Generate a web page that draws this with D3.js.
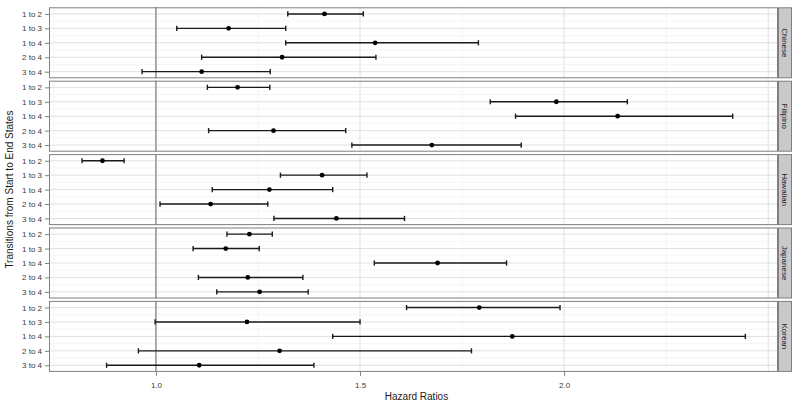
<!DOCTYPE html>
<html><head><meta charset="utf-8">
<script src="https://cdn.jsdelivr.net/npm/d3@7"></script>
<style>body{margin:0;background:#fff}svg{display:block}text{font-family:"Liberation Sans",Arial,sans-serif}</style>
</head><body><svg id="c" width="800" height="405"></svg>
<script>
const groups = ["Chinese","Filipino","Hawaiian","Japanese","Korean"];
const transitions = ["1 to 2","1 to 3","1 to 4","2 to 4","3 to 4"];
const hrChinese  = [1.413,1.178,1.537,1.309,1.112];
const loChinese  = [1.323,1.051,1.318,1.112,0.966];
const upChinese  = [1.508,1.318,1.790,1.539,1.280];
const hrFilipino = [1.200,1.981,2.131,1.288,1.676];
const loFilipino = [1.126,1.819,1.881,1.129,1.480];
const upFilipino = [1.279,2.155,2.413,1.465,1.895];
const hrHawaiian = [0.869,1.407,1.278,1.134,1.442];
const loHawaiian = [0.819,1.305,1.138,1.010,1.289];
const upHawaiian = [0.922,1.517,1.433,1.274,1.609];
const hrJapanese = [1.229,1.171,1.690,1.225,1.254];
const loJapanese = [1.174,1.091,1.535,1.104,1.149];
const upJapanese = [1.285,1.253,1.859,1.360,1.373];
const hrKorean   = [1.792,1.223,1.873,1.303,1.106];
const loKorean   = [1.614,0.998,1.433,0.957,0.879];
const upKorean   = [1.990,1.500,2.444,1.773,1.387];
const xTicks = [1.0,1.5,2.0];
const xMajorGrid = [1.0,1.5,2.0,2.5];
const xMinorGrid = [0.75,1.25,1.75,2.25];

const series = {
  Chinese:[hrChinese,loChinese,upChinese],
  Filipino:[hrFilipino,loFilipino,upFilipino],
  Hawaiian:[hrHawaiian,loHawaiian,upHawaiian],
  Japanese:[hrJapanese,loJapanese,upJapanese],
  Korean:[hrKorean,loKorean,upKorean]
};

const svg = d3.select("#c");
const L = 49, R = 778, stripW = 14;
const top0 = 7.3, panelH = 71, pitch = 73.4;
const x = d3.scaleLinear().domain([0.738, 2.524]).range([L, R]);
const y = d3.scalePoint().domain(transitions).range([0, panelH]).padding(0.46);
const yMinor = [];
for (let i = 0; i < transitions.length - 1; i++) yMinor.push((y(transitions[i]) + y(transitions[i+1])) / 2);
const step = y.step();
yMinor.unshift(y(transitions[0]) - step/2);
yMinor.push(y(transitions[transitions.length-1]) + step/2);

groups.forEach((g, gi) => {
  const t = top0 + gi * pitch;
  const p = svg.append("g").attr("transform", `translate(0,${t})`);
  p.append("rect").attr("x", L).attr("y", 0).attr("width", R - L).attr("height", panelH).attr("fill", "#fff");
  // minor grid
  p.selectAll(".vmin").data(xMinorGrid).join("line")
    .attr("x1", d => x(d)).attr("x2", d => x(d)).attr("y1", 0).attr("y2", panelH)
    .attr("stroke", "#f2f2f2").attr("stroke-width", 0.8);
  p.selectAll(".hmin").data(yMinor.filter(v => v > 0 && v < panelH)).join("line")
    .attr("x1", L).attr("x2", R).attr("y1", d => d).attr("y2", d => d)
    .attr("stroke", "#f2f2f2").attr("stroke-width", 0.8);
  // major grid
  p.selectAll(".vmaj").data(xMajorGrid).join("line")
    .attr("x1", d => x(d)).attr("x2", d => x(d)).attr("y1", 0).attr("y2", panelH)
    .attr("stroke", "#e0e0e0").attr("stroke-width", 1);
  p.selectAll(".hmaj").data(transitions).join("line")
    .attr("x1", L).attr("x2", R).attr("y1", d => y(d)).attr("y2", d => y(d))
    .attr("stroke", "#e0e0e0").attr("stroke-width", 1);
  // reference line
  p.append("line").attr("x1", x(1)).attr("x2", x(1)).attr("y1", 0).attr("y2", panelH)
    .attr("stroke", "#666").attr("stroke-width", 1);
  const [hr, lo, up] = series[g];
  const rows = transitions.map((tr, i) => ({tr, hr: hr[i], lo: lo[i], up: up[i]}));
  const eb = p.selectAll(".eb").data(rows).join("g");
  eb.append("line").attr("x1", d => x(d.lo)).attr("x2", d => x(d.up))
    .attr("y1", d => y(d.tr)).attr("y2", d => y(d.tr)).attr("stroke", "#1a1a1a").attr("stroke-width", 1.4);
  eb.append("line").attr("x1", d => x(d.lo)).attr("x2", d => x(d.lo))
    .attr("y1", d => y(d.tr) - 2.6).attr("y2", d => y(d.tr) + 2.6).attr("stroke", "#1a1a1a").attr("stroke-width", 1.4);
  eb.append("line").attr("x1", d => x(d.up)).attr("x2", d => x(d.up))
    .attr("y1", d => y(d.tr) - 2.6).attr("y2", d => y(d.tr) + 2.6).attr("stroke", "#1a1a1a").attr("stroke-width", 1.4);
  eb.append("circle").attr("cx", d => x(d.hr)).attr("cy", d => y(d.tr)).attr("r", 2.4).attr("fill", "#000");
  // border
  p.append("rect").attr("x", L + 0.5).attr("y", 0.5).attr("width", R - L - 1).attr("height", panelH - 1)
    .attr("fill", "none").attr("stroke", "#7f7f7f").attr("stroke-width", 1);
  // strip
  p.append("rect").attr("x", R + 0.5).attr("y", 0.5).attr("width", stripW - 1).attr("height", panelH - 1)
    .attr("fill", "#c9c9c9").attr("stroke", "#7f7f7f").attr("stroke-width", 1);
  p.append("text").attr("transform", `translate(${R + stripW/2 - 3},${panelH/2}) rotate(90)`)
    .attr("text-anchor", "middle").attr("font-size", 8).attr("fill", "#1a1a1a").text(g);
  // y axis
  const ya = d3.axisLeft(y).tickSize(4).tickPadding(3);
  const yg = p.append("g").attr("transform", `translate(${L},0)`).call(ya);
  yg.select(".domain").remove();
  yg.selectAll(".tick line").attr("stroke", "#7f7f7f");
  yg.selectAll(".tick text").attr("font-size", 8).attr("fill", "#3a3a3a").attr("font-family", "Liberation Sans, Arial, sans-serif");
});

const bottom = top0 + 4 * pitch + panelH;
const xa = d3.axisBottom(x).tickValues(xTicks).tickFormat(d3.format(".1f")).tickSize(4).tickPadding(6);
const xg = svg.append("g").attr("transform", `translate(0,${bottom})`).call(xa);
xg.select(".domain").remove();
xg.selectAll(".tick line").attr("stroke", "#7f7f7f");
xg.selectAll(".tick text").attr("font-size", 8).attr("fill", "#3a3a3a").attr("font-family", "Liberation Sans, Arial, sans-serif");

svg.append("text").attr("x", (L + R) / 2 + 3).attr("y", 400).attr("text-anchor", "middle")
  .attr("font-size", 10).attr("fill", "#1a1a1a").text("Hazard Ratios");
svg.append("text").attr("transform", `translate(13,${(top0 + bottom) / 2}) rotate(-90)`)
  .attr("text-anchor", "middle").attr("font-size", 10).attr("fill", "#1a1a1a").text("Transitions from Start to End States");
</script></body></html>
